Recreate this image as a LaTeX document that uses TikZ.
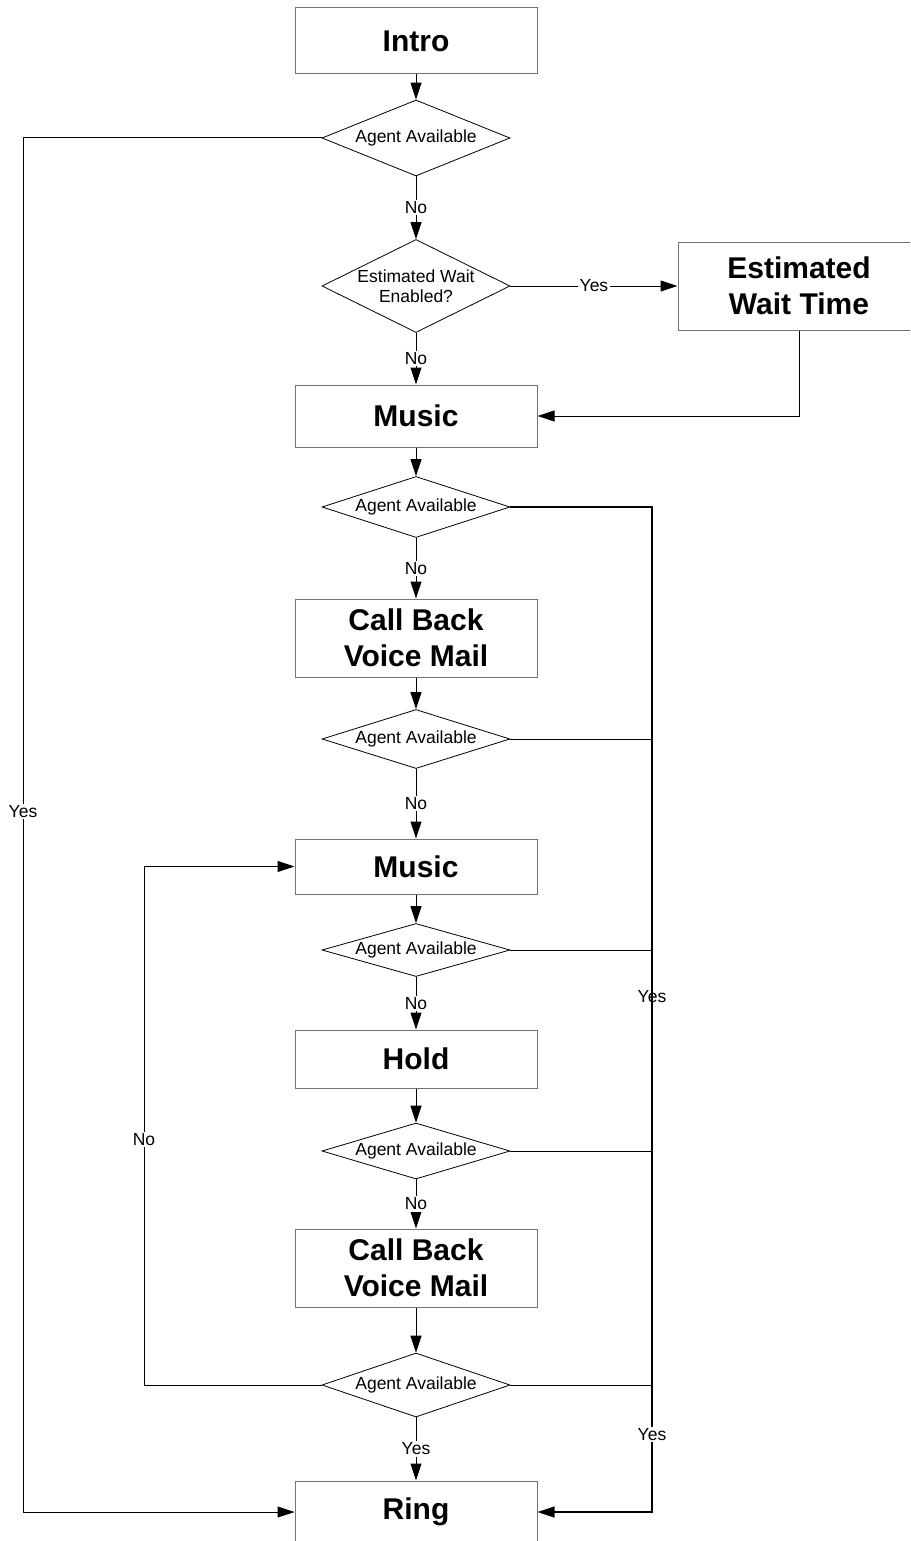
\documentclass[tikz,border=0pt]{standalone}
\usepackage{fontspec}
\setmainfont{Liberation Sans}
\usetikzlibrary{shapes.geometric,arrows.meta}
\begin{document}
\begin{tikzpicture}[x=1pt,y=-1pt,
  box/.style={draw=black!55, line width=1pt, minimum width=242pt, inner sep=0pt,
    font=\fontsize{30}{36}\selectfont\bfseries, align=center},
  dec/.style={diamond, draw=black, line width=0.8pt, minimum width=188pt,
    inner xsep=-2pt, inner ysep=0pt, font=\fontsize{17.5}{20}\selectfont, align=center},
  lbl/.style={fill=white, inner sep=1.5pt, font=\fontsize{17.5}{20}\selectfont},
  lblplain/.style={inner sep=1.5pt, font=\fontsize{17.5}{20}\selectfont},
  conn/.style={line width=1pt, draw=black},
  arr/.style={conn, -{Triangle[length=17pt,width=11pt]}}]
\useasboundingbox (0,0) rectangle (910,1541);
\clip (0,0) rectangle (910,1541);
\fill[white] (0,0) rectangle (910,1541);

% nodes
\node[box, minimum height=66pt] (intro) at (416,41) {Intro};
\node[dec, minimum height=76pt, shape aspect=2.47] (d1) at (416,138) {Agent Available};
\node[dec, minimum height=93pt, shape aspect=2.02, inner xsep=-4pt] (d2) at (416,286) {Estimated Wait\\Enabled?};
\node[box, minimum height=88pt] (est) at (799,286) {Estimated\\Wait Time};
\node[box, minimum height=62pt] (music1) at (416,416) {Music};
\node[dec, minimum height=61pt, shape aspect=3.1] (d3) at (416,507) {Agent Available};
\node[box, minimum height=78pt] (cbvm1) at (416,638) {Call Back\\Voice Mail};
\node[dec, minimum height=59pt, shape aspect=3.2] (d4) at (416,739) {Agent Available};
\node[box, minimum height=55pt] (music2) at (416,866.5) {Music};
\node[dec, minimum height=53pt, shape aspect=3.55] (d5) at (416,950) {Agent Available};
\node[box, minimum height=58pt] (hold) at (416,1059) {Hold};
\node[dec, minimum height=56pt, shape aspect=3.36] (d6) at (416,1151) {Agent Available};
\node[box, minimum height=78pt] (cbvm2) at (416,1268) {Call Back\\Voice Mail};
\node[dec, minimum height=64pt, shape aspect=2.94] (d7) at (416,1385) {Agent Available};
\node[box, minimum height=62pt] (ring) at (416,1512) {Ring};

% helper coordinates
\coordinate (L1) at (23,138);
\coordinate (L2) at (23,1512);
\coordinate (N1) at (144,1385);
\coordinate (N2) at (144,866.5);
\coordinate (R3) at (652,507);
\coordinate (Rb) at (652,1512);

% main flow
\draw[arr] (intro) -- (d1);
\draw[arr] (d1) -- node[lbl]{No} (d2);
\draw[arr] (d2) -- node[lbl]{Yes} (est);
\draw[arr] (d2) -- node[lbl]{No} (music1);
\draw[arr] (est.south) |- (music1.east);
\draw[arr] (music1) -- (d3);
\draw[arr] (d3) -- node[lbl]{No} (cbvm1);
\draw[arr] (cbvm1) -- (d4);
\draw[arr] (d4) -- node[lbl]{No} (music2);
\draw[arr] (music2) -- (d5);
\draw[arr] (d5) -- node[lbl]{No} (hold);
\draw[arr] (hold) -- (d6);
\draw[arr] (d6) -- node[lbl]{No} (cbvm2);
\draw[arr] (cbvm2) -- (d7);
\draw[arr] (d7) -- node[lbl]{Yes} (ring);

% left Yes loop
\draw[arr] (d1.west) -- (L1) -- node[lbl, pos=0.49]{Yes} (L2) -- (ring.west);
% left No loop
\draw[arr] (d7.west) -- (N1) -- node[lbl, pos=0.474]{No} (N2) -- (music2.west);
% right Yes trunk
\draw[arr, line width=1.2pt] (d3.east) -- (R3) -- node[lblplain, pos=0.4876]{Yes} node[lbl, pos=0.923]{Yes} (Rb) -- (ring.east);
\draw[conn] (d4.east) -- (d4.east -| R3);
\draw[conn] (d5.east) -- (d5.east -| R3);
\draw[conn] (d6.east) -- (d6.east -| R3);
\draw[conn] (d7.east) -- (d7.east -| R3);
\end{tikzpicture}
\end{document}
